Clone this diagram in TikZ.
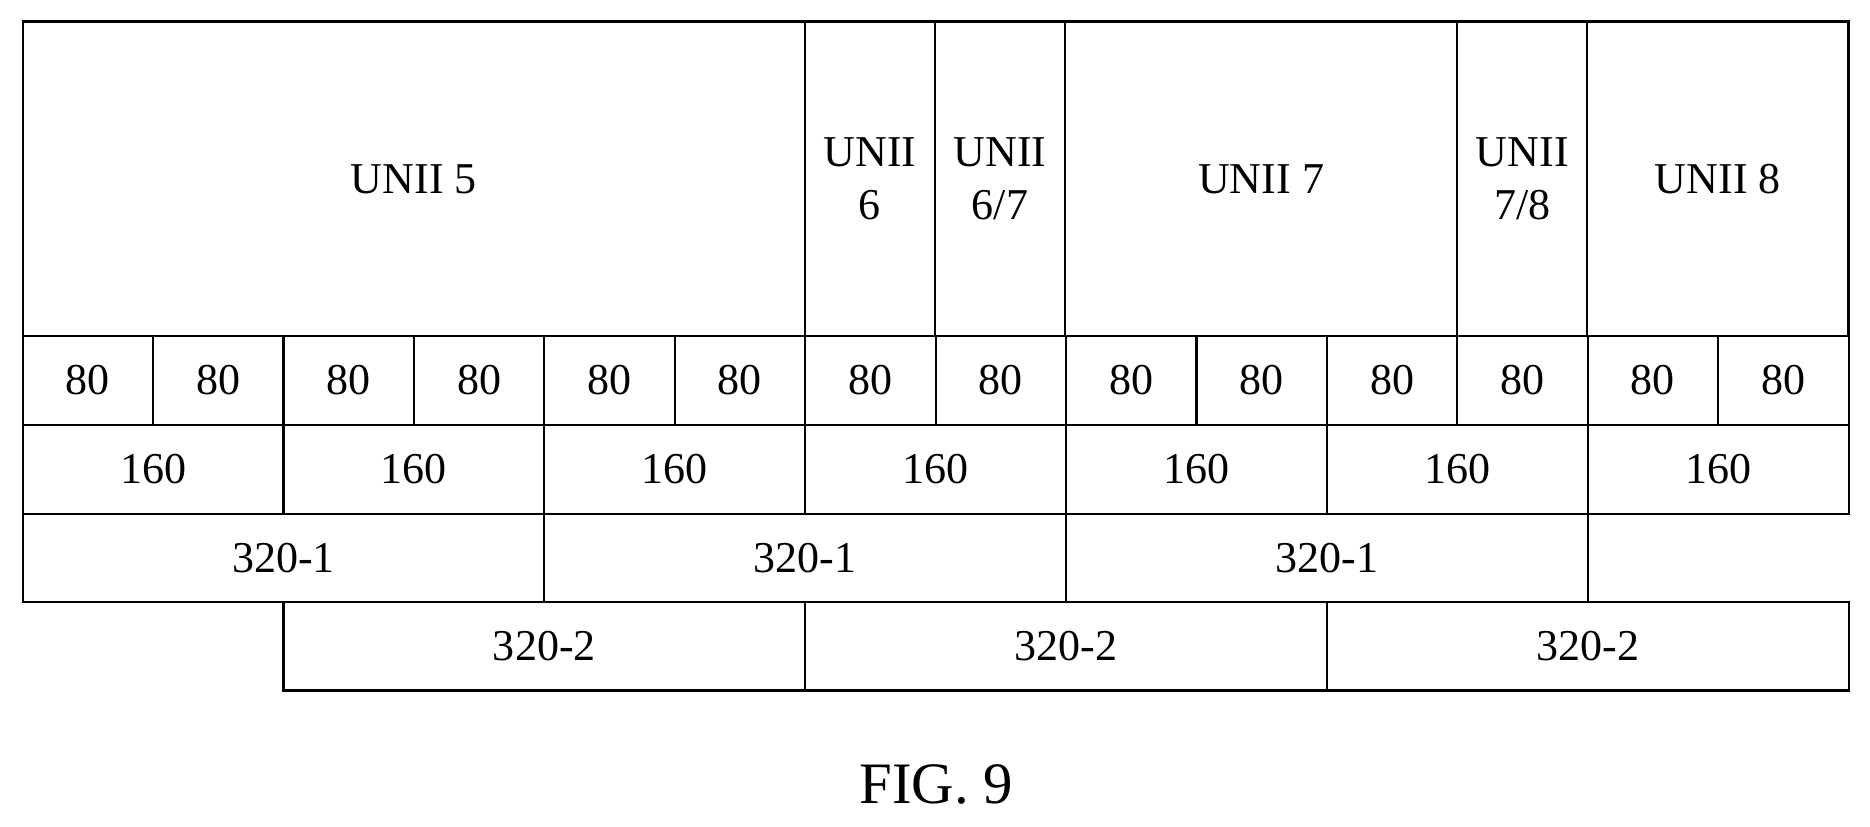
\documentclass[tikz,border=0pt]{standalone}
\usepackage{fontspec}
\setmainfont{Liberation Serif}
\begin{document}
\begin{tikzpicture}[x=0.01cm,y=-0.01cm,
  cell/.style={draw,line width=0.5pt,inner sep=0pt,align=center,font=\fontsize{10.5}{12.5}\selectfont},
]
\useasboundingbox (0,0) rectangle (1568,693);
\def\cw{109.36}
\newcommand{\cellbox}[6]{% name, x1, y1, x2, y2, text
  \node[cell,minimum width={((#4)-(#2))*0.01cm},minimum height={((#5)-(#3))*0.01cm}] (#1) at ({((#2)+(#4))/2},{((#3)+(#5))/2}) {#6};}
% top row
\cellbox{u5}{19}{18}{675}{282}{UNII 5}
\cellbox{u6}{675}{18}{784}{282}{UNII\\6}
\cellbox{u67}{784}{18}{893}{282}{UNII\\6/7}
\cellbox{u7}{893}{18}{1222}{282}{UNII 7}
\cellbox{u78}{1222}{18}{1331}{282}{UNII\\7/8}
\cellbox{u8}{1331}{18}{1550}{282}{UNII 8}
% 80 row
\foreach \i in {0,...,13}{
  \cellbox{e\i}{19+\i*\cw}{282}{19+\i*\cw+\cw}{356}{80}
}
% 160 row
\foreach \i in {0,...,6}{
  \cellbox{s\i}{19+\i*2*\cw}{356}{19+\i*2*\cw+2*\cw}{431}{160}
}
% 320-1 row
\foreach \i in {0,1,2}{
  \cellbox{a\i}{19+\i*4*\cw}{431}{19+\i*4*\cw+4*\cw}{505}{320-1}
}
% 320-2 row
\foreach \i in {0,1,2}{
  \cellbox{b\i}{19+2*\cw+\i*4*\cw}{505}{19+2*\cw+\i*4*\cw+4*\cw}{579}{320-2}
}
\node[font=\fontsize{14}{16}\selectfont] (fig) at (785,658) {FIG. 9};
\end{tikzpicture}
\end{document}
